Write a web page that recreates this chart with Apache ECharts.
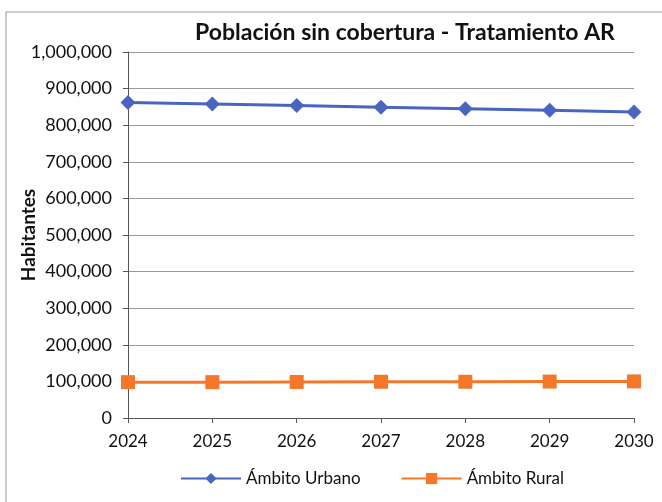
<!DOCTYPE html>
<html><head><meta charset="utf-8">
<script src="https://cdn.jsdelivr.net/npm/echarts@6/dist/echarts.min.js"></script>
<style>html,body{margin:0;padding:0;background:#fff}#c{width:662px;height:502px}</style>
</head><body><div id="c"></div>
<script>
const years = ['2024','2025','2026','2027','2028','2029','2030'];
const urbano = [862000, 858000, 854000, 849000, 845000, 841000, 836000];
const rural = [98000, 98000, 98500, 99000, 99000, 99500, 100000];
const seriesNames = ['Ámbito Urbano', 'Ámbito Rural'];
const titleText = 'Población sin cobertura - Tratamiento AR';
const yName = 'Habitantes';

const FONT = 'Lato';
const chart = echarts.init(document.getElementById('c'));
chart.setOption({
  animation: false,
  backgroundColor: '#fff',
  title: {
    text: titleText, left: 400, top: 16, textAlign: 'center',
    textStyle: { fontFamily: FONT, fontWeight: 'bold', fontSize: 23, color: '#111' }
  },
  graphic: [{ type: 'rect', shape: { x: 6, y: 12, width: 680, height: 520 }, style: { fill: 'none', stroke: '#999', lineWidth: 1 }, silent: true }],
  legend: {
    top: 465, left: 175, itemWidth: 60, itemHeight: 14, itemGap: 40,
    textStyle: { fontFamily: FONT, fontSize: 17, color: '#111' },
    data: seriesNames
  },
  grid: { left: 128, right: 28, top: 52, bottom: 84, containLabel: false, outerBoundsMode: 'none' },
  xAxis: {
    type: 'category', data: years, boundaryGap: false,
    axisLine: { lineStyle: { color: '#555' } },
    axisTick: { show: true, alignWithLabel: true, length: 5, lineStyle: { color: '#555' } },
    axisLabel: { fontFamily: FONT, fontSize: 17, color: '#111', margin: 15 }
  },
  yAxis: {
    type: 'value', min: 0, max: 1000000, interval: 100000,
    name: yName, nameLocation: 'middle', nameGap: 90, nameRotate: 90, nameMoveOverlap: false,
    nameTextStyle: { fontFamily: FONT, fontWeight: 'bold', fontSize: 19, color: '#111' },
    axisLine: { show: true, lineStyle: { color: '#555' } },
    axisTick: { show: true, length: 5, lineStyle: { color: '#555' } },
    axisLabel: { fontFamily: FONT, fontSize: 18, color: '#111', margin: 16,
      formatter: v => v.toLocaleString('en-US') },
    splitLine: { lineStyle: { color: '#999', width: 1 } }
  },
  series: [
    { name: seriesNames[0], type: 'line', data: urbano, symbol: 'diamond', symbolSize: 15,
      lineStyle: { width: 3, color: '#4a64c0' }, itemStyle: { color: '#4a64c0' } },
    { name: seriesNames[1], type: 'line', data: rural, symbol: 'rect', symbolSize: 14,
      lineStyle: { width: 3, color: '#f5782a' }, itemStyle: { color: '#f5782a' } }
  ]
});
</script></body></html>
